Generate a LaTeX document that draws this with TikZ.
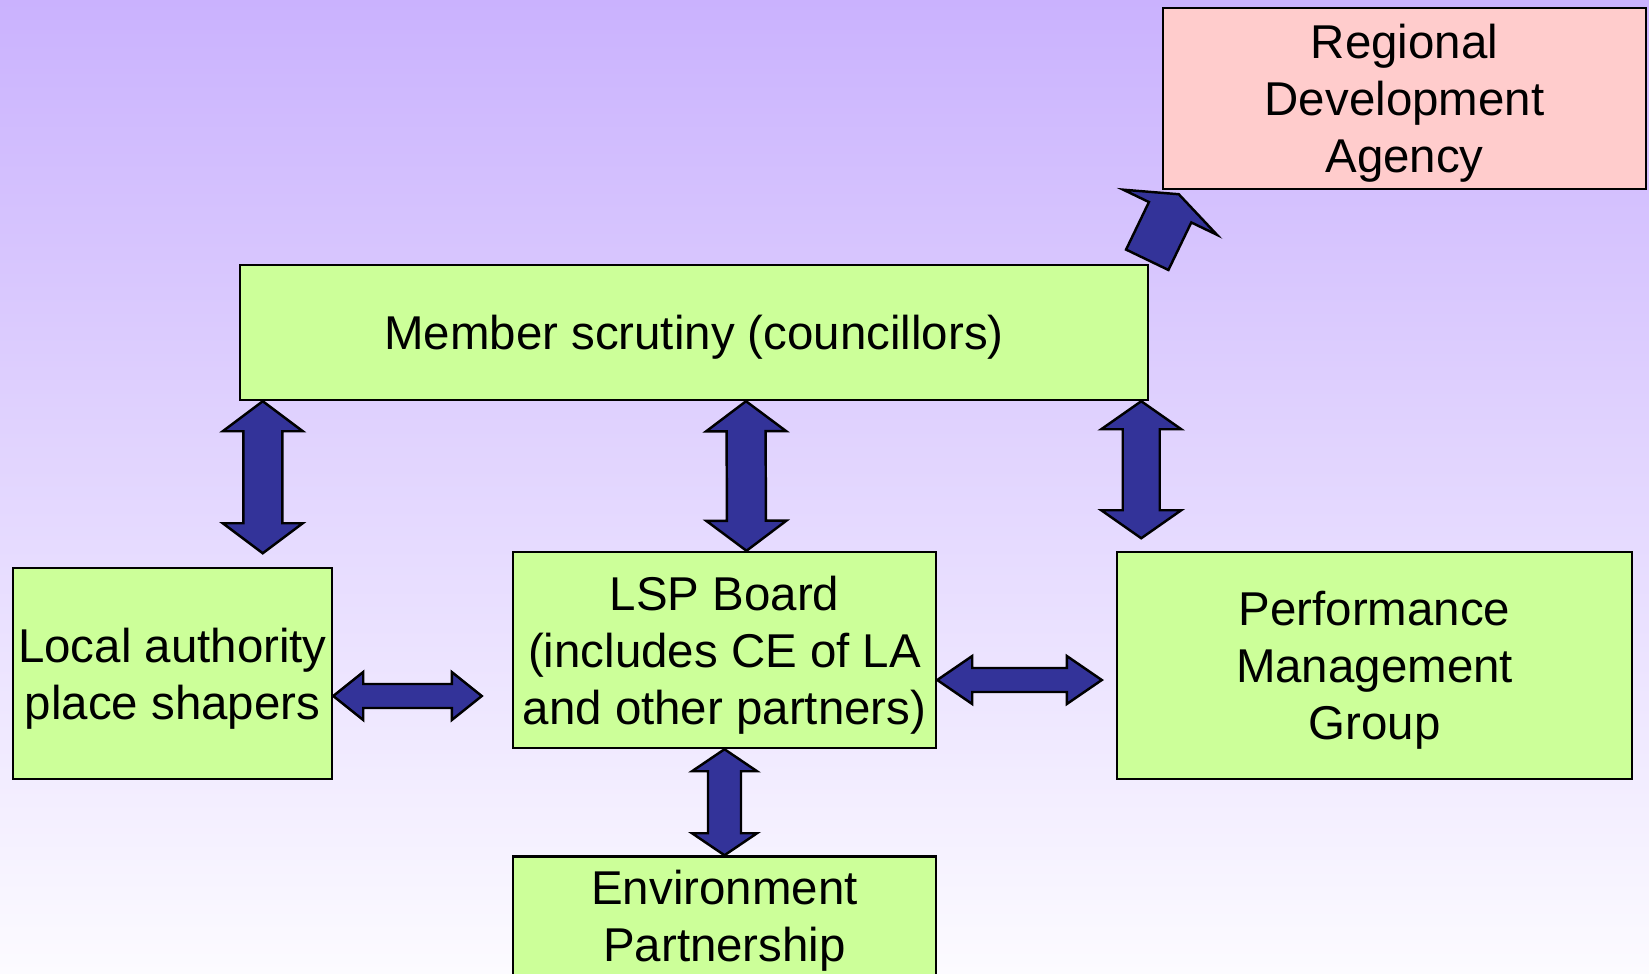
\documentclass[tikz,border=0pt]{standalone}
\usepackage{fontspec}
\setmainfont{Liberation Sans}
\usetikzlibrary{positioning,calc}
\definecolor{boxgreen}{HTML}{CCFF99}
\definecolor{boxpink}{HTML}{FFCCCC}
\definecolor{arrowblue}{HTML}{333399}
\definecolor{bgtop}{HTML}{CAB2FE}
\definecolor{bgbottom}{HTML}{FCFBFF}
\tikzset{main box/.style={rectangle,draw,line width=0.7pt,fill=boxgreen,inner sep=0pt,align=center,text depth=-0.5pt,font=\fontsize{13.5}{16.2}\selectfont},
  agency box/.style={main box,fill=boxpink},
  block arrow/.style={draw,line width=0.7pt,fill=arrowblue,line join=miter}}
% block arrows: from, to, shaft half width, head half width, head length
\newcommand{\dblarrow}[5]{%
  \coordinate (p) at ($(#1)!#5!(#2)$);
  \coordinate (q) at ($(#2)!#5!(#1)$);
  \draw[block arrow] (#1) -- ($(p)!#4!90:(#2)$) -- ($(p)!#3!90:(#2)$) -- ($(q)!#3!-90:(#1)$) -- ($(q)!#4!-90:(#1)$) -- (#2)
    -- ($(q)!#4!90:(#1)$) -- ($(q)!#3!90:(#1)$) -- ($(p)!#3!-90:(#2)$) -- ($(p)!#4!-90:(#2)$) -- cycle;}
\newcommand{\sglarrow}[5]{%
  \coordinate (q) at ($(#2)!#5!(#1)$);
  \draw[block arrow] ($(#1)!#3!90:(#2)$) -- ($(q)!#3!-90:(#1)$) -- ($(q)!#4!-90:(#1)$) -- (#2)
    -- ($(q)!#4!90:(#1)$) -- ($(q)!#3!90:(#1)$) -- ($(#1)!#3!-90:(#2)$) -- cycle;}

\begin{document}
\begin{tikzpicture}
    \useasboundingbox (0,0) rectangle (16.49,-9.73);
    \clip (0,0) rectangle (16.49,-9.73);
    \shade[top color=bgtop, bottom color=bgbottom] (0,0) rectangle (16.49,-9.73);

    \node[agency box, minimum width=4.83cm, minimum height=1.81cm] (rda) at (14.045,-0.985) {Regional\\Development\\Agency};
    \node[main box, minimum width=9.08cm, minimum height=1.35cm] (ms) at (6.94,-3.325) {Member scrutiny (councillors)};
    \node[main box, minimum width=4.23cm, minimum height=1.96cm] (lsp) at (7.245,-6.50) {LSP Board\\(includes CE of LA\\and other partners)};
    \node[main box, minimum width=3.19cm, minimum height=2.11cm] (la) at (1.725,-6.735) {Local authority\\place shapers};
    \node[main box, minimum width=5.15cm, minimum height=2.27cm] (pmg) at (13.745,-6.655) {Performance\\Management\\Group};
    \node[main box, minimum width=4.23cm, minimum height=1.40cm, text depth=6pt] (env) [below=1.06cm of lsp] {Environment\\Partnership};

    \coordinate (a1s) at ($(ms.south west)+(0.24,0)$);
    \coordinate (a1e) at ($(ms.south west)+(0.24,-1.52)$);
    \coordinate (a2s) at ($(ms.south)+(0.52,0)$);
    \coordinate (a2e) at ($(lsp.north)+(0.22,0)$);
    \coordinate (a3s) at ($(ms.south east)+(-0.08,0)$);
    \coordinate (a3e) at ($(ms.south east)+(-0.08,-1.37)$);
    \coordinate (a4s) at ($(la.east)+(0,-0.225)$);
    \coordinate (a4e) at ($(lsp.west)+(-0.30,-0.46)$);
    \coordinate (a5s) at ($(lsp.east)+(0,-0.30)$);
    \coordinate (a5e) at ($(pmg.west)+(-0.14,-0.145)$);
    \coordinate (a7s) at ($(ms.north east)+(-0.02,0.04)$);
    \coordinate (a7e) at ($(rda.south west)+(0.17,-0.04)$);

    \dblarrow{a1s}{a1e}{0.195cm}{0.40cm}{0.30cm}
    \dblarrow{a2s}{a2e}{0.195cm}{0.40cm}{0.30cm}
    \dblarrow{a3s}{a3e}{0.185cm}{0.40cm}{0.28cm}
    \dblarrow{a4s}{a4e}{0.12cm}{0.24cm}{0.30cm}
    \dblarrow{a5s}{a5e}{0.12cm}{0.24cm}{0.35cm}
    \dblarrow{lsp.south}{env.north}{0.165cm}{0.325cm}{0.22cm}
    \sglarrow{a7s}{a7e}{0.235cm}{0.52cm}{0.20cm}
\end{tikzpicture}
\end{document}
